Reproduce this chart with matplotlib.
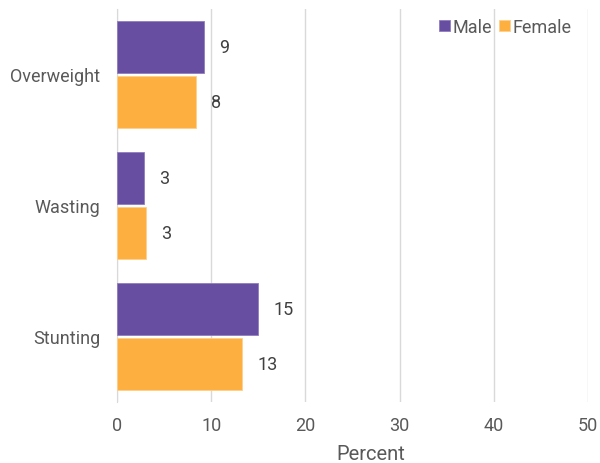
import matplotlib
matplotlib.use("Agg")
import matplotlib.pyplot as plt
import numpy as np

categories = ["Overweight", "Wasting", "Stunting"]
male = [9.2, 2.9, 15.0]
female = [8.4, 3.1, 13.3]
series_names = ["Male", "Female"]
xticks = [0, 10, 20, 30, 40, 50]

plt.rcParams['font.family'] = ['Roboto', 'DejaVu Sans']
txt = '#595959'
c_male = '#684EA0'
c_female = '#FDB040'

fig = plt.figure(figsize=(6, 4.64), dpi=100)
ax = fig.add_axes([0.195, 0.1315, 0.785, 0.847])

pos = np.arange(len(categories))[::-1]
h = 0.39
off = 0.21
bm = ax.barh(pos + off, male, height=h, color=c_male, edgecolor='#8f7cc0', linewidth=0.6, label=series_names[0], zorder=3)
bf = ax.barh(pos - off, female, height=h, color=c_female, edgecolor='#fdd08a', linewidth=0.6, label=series_names[1], zorder=3)

for bars, vals in ((bm, male), (bf, female)):
    ax.bar_label(bars, labels=[f"{v:.0f}" for v in vals], padding=11, fontsize=13, color='#404040')

ax.set_xlim(0, 50)
ax.set_ylim(-0.5, 2.5)
ax.set_xticks(xticks)
ax.set_yticks(pos)
ax.set_yticklabels(categories)
ax.tick_params(axis='both', length=0, labelsize=13, colors=txt)
ax.tick_params(axis='x', pad=10)
ax.tick_params(axis='y', pad=12)
ax.grid(axis='x', color='#d9d9d9', linewidth=1, zorder=0)
for s in ['top', 'right', 'bottom']:
    ax.spines[s].set_visible(False)
ax.spines['left'].set_color('#d9d9d9')
ax.set_xlabel('Percent', fontsize=14.5, color=txt, labelpad=7)
ax.xaxis.set_label_coords(0.539, -0.108)

leg = ax.legend(loc='upper right', bbox_to_anchor=(0.985, 1.0), ncol=2, frameon=False,
                fontsize=13, handlelength=0.6, handleheight=0.6, handletextpad=0.15,
                columnspacing=0.4, borderaxespad=0.1)
for t in leg.get_texts():
    t.set_color(txt)

fig.savefig('out.png', dpi=100)
